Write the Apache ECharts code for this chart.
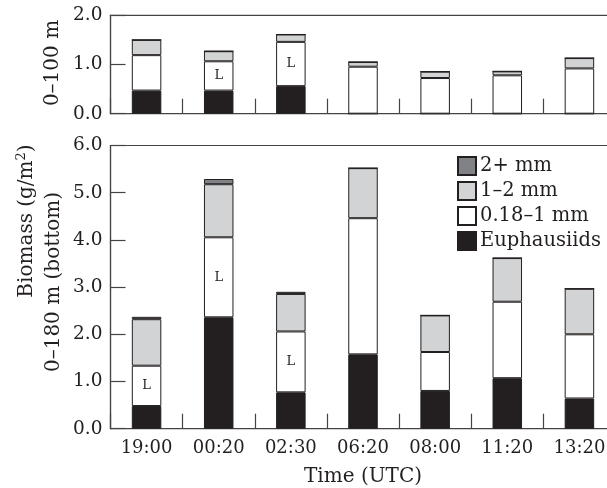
<!DOCTYPE html>
<html>
<head>
<meta charset="utf-8">
<script src="https://cdn.jsdelivr.net/npm/echarts@6/dist/echarts.min.js"></script>
<style>
  html, body { margin: 0; padding: 0; background: #fff; }
  #chart { width: 607px; height: 488px; }
</style>
</head>
<body>
<div id="chart"></div>
<script>
// sampling times
const categories = ['19:00', '00:20', '02:30', '06:20', '08:00', '11:20', '13:20']

// 0-100 m panel (segment values, g/m2)
const euphTop = [0.47, 0.47, 0.56, 0, 0, 0, 0]
const smallTop = [0.72, 0.595, 0.90, 0.955, 0.725, 0.78, 0.92]
const midTop = [0.31, 0.205, 0.15, 0.095, 0.13, 0.08, 0.21]
const largeTop = [0, 0, 0, 0, 0, 0, 0]
const flagTop = ['', 'L', 'L', '', '', '', '']

// 0-180 m (bottom) panel
const euphBot = [0.48, 2.36, 0.77, 1.575, 0.80, 1.07, 0.64]
const smallBot = [0.855, 1.695, 1.29, 2.885, 0.825, 1.62, 1.36]
const midBot = [0.985, 1.125, 0.795, 1.06, 0.775, 0.925, 0.966]
const largeBot = [0.05, 0.11, 0.045, 0, 0, 0, 0]
const flagBot = ['L', 'L', 'L', '', '', '', '']

const topTicks = [0, 2, 1]   // min, max, interval
const botTicks = [0, 6, 1]

const FONT = 'DejaVu Serif'
const INK = '#231f20'
const AXIS = '#444'

const chart = echarts.init(document.getElementById('chart'))

const segStyle = (color) => ({ color: color, borderColor: INK, borderWidth: 1 })

const makeSeries = (idx, euph, small, mid, large, flags) => {
  const stack = 'p' + idx
  const base = { type: 'bar', stack: stack, xAxisIndex: idx, yAxisIndex: idx, barWidth: 29.5 }
  return [
    { ...base, name: 'Euphausiids', data: euph, itemStyle: segStyle('#231f20') },
    {
      ...base, name: '0.18–1 mm', data: small, itemStyle: segStyle('#ffffff'),
      label: {
        show: true, position: 'inside', color: INK, fontFamily: FONT, fontSize: 13,
        formatter: (p) => flags[p.dataIndex]
      }
    },
    { ...base, name: '1–2 mm', data: mid, itemStyle: segStyle('#d1d3d4') },
    { ...base, name: '2+ mm', data: large, itemStyle: segStyle('#808285') }
  ]
}

const makeY = (idx, ticks) => ({
  type: 'value', gridIndex: idx,
  min: ticks[0], max: ticks[1], interval: ticks[2],
  axisLine: { show: true, lineStyle: { color: AXIS, width: 1.2 } },
  axisTick: { show: true, inside: true, length: 15, lineStyle: { color: AXIS, width: 1.2 } },
  axisLabel: {
    color: INK, fontFamily: FONT, fontSize: 18.5, margin: 8,
    formatter: (v) => v.toFixed(1)
  },
  splitLine: { show: false }
})

const makeX = (idx, showLabels) => ({
  type: 'category', gridIndex: idx, data: categories,
  axisLine: { show: true, lineStyle: { color: AXIS, width: 1.2 } },
  axisTick: { show: true, inside: true, length: 15, interval: 0, lineStyle: { color: AXIS, width: 1.2 } },
  axisLabel: { show: showLabels, color: INK, fontFamily: FONT, fontSize: 18, margin: 11 },
  name: showLabels ? 'Time (UTC)' : '',
  nameLocation: 'middle', nameGap: 38,
  nameTextStyle: { color: INK, fontFamily: FONT, fontSize: 20 }
})

const gridBase = { left: 110.5, width: 505, show: true, borderColor: AXIS, borderWidth: 1.2, containLabel: false, outerBoundsMode: 'none' }

const option = {
  animation: false,
  backgroundColor: '#fff',
  textStyle: { fontFamily: FONT },
  grid: [
    { ...gridBase, top: 15.3, height: 98.4 },
    { ...gridBase, top: 145.5, height: 283.2 }
  ],
  legend: {
    data: ['2+ mm', '1–2 mm', '0.18–1 mm', 'Euphausiids'],
    orient: 'vertical', left: 457, top: 156, padding: 0,
    itemWidth: 18, itemHeight: 18, itemGap: 5,
    icon: 'rect',
    textStyle: { color: INK, fontFamily: FONT, fontSize: 19.5, lineHeight: 18, padding: [0, 0, 0, -1] }
  },
  xAxis: [makeX(0, false), makeX(1, true)],
  yAxis: [makeY(0, topTicks), makeY(1, botTicks)],
  series: [
    ...makeSeries(0, euphTop, smallTop, midTop, largeTop, flagTop),
    ...makeSeries(1, euphBot, smallBot, midBot, largeBot, flagBot)
  ],
  graphic: [
    {
      type: 'text', x: 53, y: 63, rotation: Math.PI / 2,
      style: { text: '0–100 m', fill: INK, font: '20px "DejaVu Serif"', textAlign: 'center', textVerticalAlign: 'middle' }
    },
    {
      type: 'text', x: 27, y: 221, rotation: Math.PI / 2,
      style: {
        text: 'Biomass (g/m{sup|2})', fill: INK, font: '20px "DejaVu Serif"',
        textAlign: 'center', textVerticalAlign: 'middle',
        rich: { sup: { fontSize: 13, fontFamily: FONT, verticalAlign: 'top', padding: [0, 0, 10, 0] } }
      }
    },
    {
      type: 'text', x: 54, y: 282, rotation: Math.PI / 2,
      style: { text: '0–180 m (bottom)', fill: INK, font: '20px "DejaVu Serif"', textAlign: 'center', textVerticalAlign: 'middle' }
    }
  ]
}

chart.setOption(option)
</script>
</body>
</html>
